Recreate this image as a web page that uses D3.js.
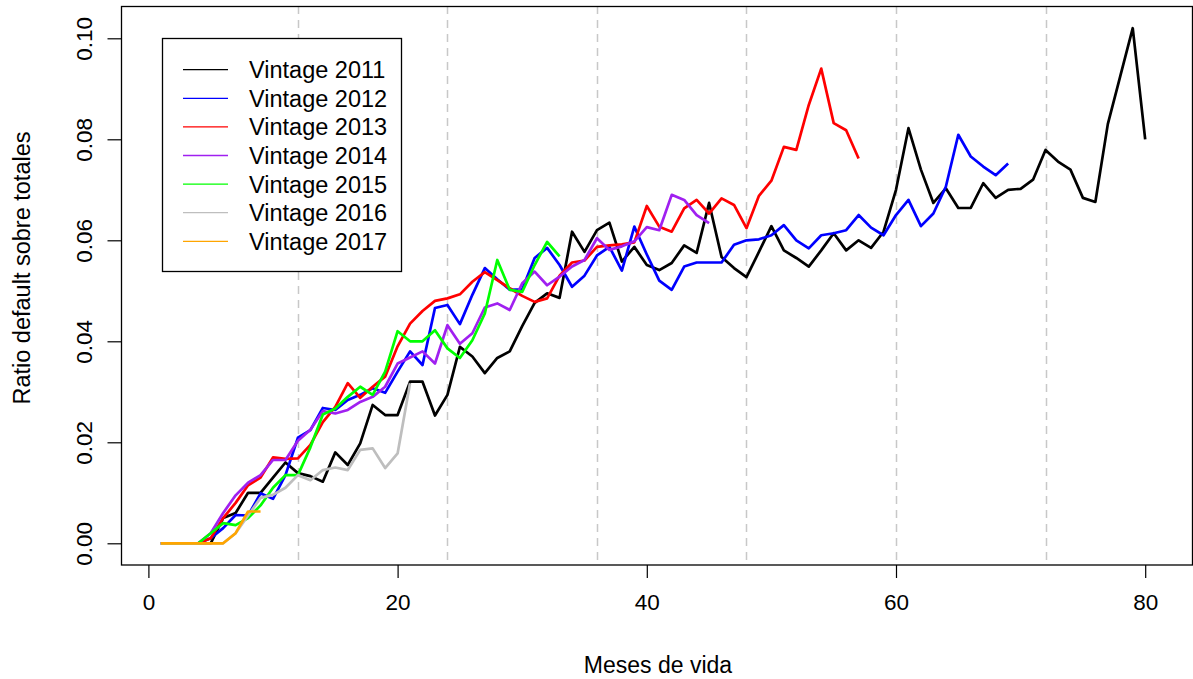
<!DOCTYPE html>
<html><head><meta charset="utf-8">
<script src="https://cdn.jsdelivr.net/npm/d3@7"></script>
<style>body{margin:0;background:#fff}svg{display:block}text{font-family:"Liberation Sans",Arial,sans-serif;fill:#000}</style>
</head><body>
<svg id="c" width="1193" height="679"></svg>
<script>
const seriesNames = ["Vintage 2011","Vintage 2012","Vintage 2013","Vintage 2014","Vintage 2015","Vintage 2016","Vintage 2017"];
const seriesColors = ["#000000","#0000FF","#FF0000","#A020F0","#00FF00","#BEBEBE","#FFA500"];
const xTicks = [0,20,40,60,80];
const yTicks = [0.00,0.02,0.04,0.06,0.08,0.10];
const gridMonths = [12,24,36,48,60,72];
const xLabel = "Meses de vida";
const yLabel = "Ratio default sobre totales";

const v2011 = [0,0,0,0,0,0.005,0.006,0.010,0.010,0.013,0.016,0.0139,0.0133,0.0122,0.018,0.0155,0.0198,0.0274,0.0254,0.0254,
0.032,0.032,0.0253,0.0294,0.0389,0.037,0.0337,0.0367,0.038,0.043,0.0476,0.0495,0.0486,0.0617,0.0577,0.062,0.0635,0.0558,0.0587,0.0551,
0.0541,0.0555,0.059,0.0575,0.0674,0.0567,0.0545,0.0527,0.0577,0.0628,0.058,0.0565,0.0548,0.058,0.0614,0.058,0.060,0.0585,0.0617,0.070,
0.0822,0.074,0.0674,0.0703,0.0664,0.0664,0.0713,0.0684,0.070,0.0702,0.072,0.0779,0.0756,0.074,0.0684,0.0676,0.083,0.0925,0.102,0.080];
const v2012 = [0,0,0,0,0.001,0.003,0.0056,0.0055,0.0099,0.0088,0.0135,0.0209,0.0224,0.0268,0.0264,0.0284,0.0294,0.0307,0.0298,0.034,
0.038,0.0353,0.0466,0.0472,0.0434,0.0492,0.0545,0.0523,0.0502,0.0503,0.0565,0.0585,0.0551,0.0508,0.053,0.057,0.0587,0.054,0.0627,0.0572,
0.052,0.0502,0.0548,0.0556,0.0556,0.0556,0.0591,0.060,0.0602,0.061,0.063,0.060,0.0584,0.061,0.0614,0.062,0.065,0.0625,0.061,0.065,
0.068,0.0628,0.0653,0.0706,0.0809,0.0766,0.0746,0.0729,0.0752];
const v2013 = [0,0,0,0,0.001,0.005,0.008,0.0115,0.013,0.017,0.0167,0.0168,0.0195,0.024,0.027,0.0317,0.0288,0.031,0.033,0.039,
0.0435,0.046,0.048,0.0485,0.0493,0.0518,0.0537,0.0521,0.0505,0.049,0.0478,0.0485,0.053,0.0556,0.056,0.0587,0.059,0.0592,0.0596,0.0668,
0.0627,0.0617,0.0663,0.068,0.0653,0.0683,0.067,0.0624,0.0688,0.0718,0.0785,0.0779,0.0868,0.094,0.0832,0.0818,0.0762];
const v2014 = [0,0,0,0,0.002,0.006,0.0095,0.012,0.0135,0.0165,0.0165,0.0203,0.0225,0.0262,0.0257,0.0264,0.028,0.029,0.031,0.0356,
0.0368,0.038,0.0356,0.0432,0.0395,0.0416,0.0467,0.0475,0.0462,0.0515,0.0538,0.0511,0.0528,0.0548,0.0561,0.0604,0.0581,0.0588,0.0598,0.0626,
0.062,0.069,0.068,0.065,0.0634];
const v2015 = [0,0,0,0,0.002,0.004,0.0036,0.005,0.0075,0.011,0.0135,0.0135,0.019,0.0255,0.0267,0.029,0.031,0.0294,0.034,0.042,
0.040,0.040,0.0422,0.0386,0.0367,0.0402,0.0455,0.0561,0.0502,0.0498,0.0551,0.0597,0.0568];
const v2016 = [0,0,0,0,0,0,0.002,0.0055,0.009,0.0096,0.011,0.0135,0.0125,0.0145,0.015,0.0145,0.0185,0.0188,0.0149,0.0178,0.0317];
const v2017 = [0,0,0,0,0,0,0.002,0.0063,0.0063];
const seriesValues = [v2011,v2012,v2013,v2014,v2015,v2016,v2017];

const svg = d3.select("#c");
const x = d3.scaleLinear().domain([0,80]).range([148.4,1145.2]);
const y = d3.scaleLinear().domain([0,0.10]).range([543.3,38.3]);
const L = 121, T = 6, R = 1192, B = 564.5;
const fs = 23, fsTick = 22.5;

// grid
svg.append("g").selectAll("line").data(gridMonths).join("line")
  .attr("x1",d=>Math.round(x(d))+0.5).attr("x2",d=>Math.round(x(d))+0.5)
  .attr("y1",T).attr("y2",B)
  .attr("stroke","#c8c8c8").attr("stroke-width",1.5).attr("stroke-dasharray","8,6");

// lines
const line = d3.line().x((d,i)=>x(i+1)).y(d=>y(d));
svg.append("g").selectAll("path").data(seriesValues).join("path")
  .attr("d",d=>line(d)).attr("fill","none")
  .attr("stroke",(d,i)=>seriesColors[i]).attr("stroke-width",2.7)
  .attr("stroke-linejoin","round");

// frame
svg.append("rect").attr("x",L+0.5).attr("y",T+0.5).attr("width",R-L).attr("height",B-T)
  .attr("fill","none").attr("stroke","#000").attr("stroke-width",1.3);

// x axis
const xa = svg.append("g").attr("transform",`translate(0,${B+0.5})`)
  .call(d3.axisBottom(x).tickValues(xTicks).tickSize(13).tickPadding(16).tickFormat(d3.format("d")));
xa.select(".domain").remove();
xa.selectAll("line").attr("stroke","#000").attr("stroke-width",1.2);
xa.selectAll("text").attr("font-size",fsTick).attr("font-family","Liberation Sans, Arial").attr("fill","#000");

// y axis
const ya = svg.append("g").attr("transform",`translate(${L+0.5},0)`)
  .call(d3.axisLeft(y).tickValues(yTicks).tickSize(14).tickFormat(d3.format(".2f")));
ya.select(".domain").remove();
ya.selectAll("line").attr("stroke","#000").attr("stroke-width",1.2);
ya.selectAll("text").attr("font-size",fsTick).attr("font-family","Liberation Sans, Arial").attr("fill","#000")
  .attr("transform","rotate(-90)").attr("x",0).attr("y",-37).attr("dy","0.35em").attr("text-anchor","middle");

// titles
svg.append("text").attr("x",658).attr("y",673).attr("text-anchor","middle").attr("font-size",fs).text(xLabel);
svg.append("text").attr("transform","translate(30,268) rotate(-90)").attr("text-anchor","middle").attr("font-size",fs+0.5).text(yLabel);

// legend
const lg = svg.append("g");
lg.append("rect").attr("x",162.5).attr("y",38.5).attr("width",239).attr("height",233)
  .attr("fill","#fff").attr("stroke","#000").attr("stroke-width",1.3);
const rowY = d3.scaleLinear().domain([0,6]).range([69.7,241.3]);
seriesNames.forEach((n,i)=>{
  lg.append("line").attr("x1",183).attr("x2",228).attr("y1",rowY(i)).attr("y2",rowY(i))
    .attr("stroke",seriesColors[i]).attr("stroke-width",1.3);
  lg.append("text").attr("x",249).attr("y",rowY(i)).attr("dy","0.36em").attr("font-size",fs+0.5).text(n);
});
</script>
</body></html>
